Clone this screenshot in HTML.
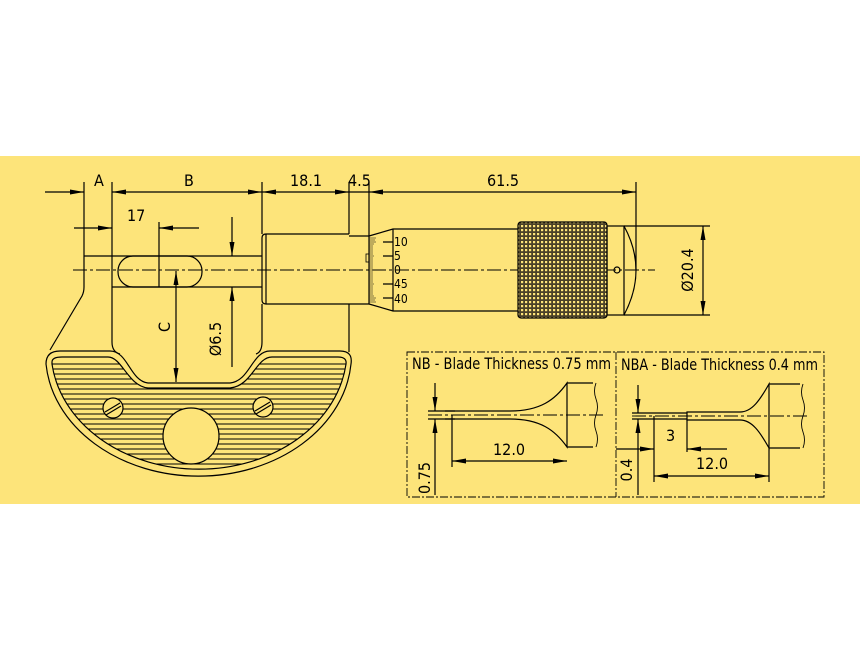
<!DOCTYPE html>
<html><head><meta charset="utf-8"><style>
html,body{margin:0;padding:0;background:#fff;width:860px;height:654px;overflow:hidden}
svg{display:block}
text{font-family:"DejaVu Sans Condensed","Liberation Sans Narrow","Liberation Sans",sans-serif;fill:#000}
</style></head><body>
<svg width="860" height="654" viewBox="0 0 860 654" xmlns="http://www.w3.org/2000/svg">
<defs>
<marker id="ae" markerWidth="14" markerHeight="6" refX="14" refY="3" orient="auto" markerUnits="userSpaceOnUse"><path d="M0,0.5 L14,3 L0,5.5z" fill="#000"/></marker>
<marker id="as" markerWidth="14" markerHeight="6" refX="0" refY="3" orient="auto" markerUnits="userSpaceOnUse"><path d="M14,0.5 L0,3 L14,5.5z" fill="#000"/></marker>
<clipPath id="gc"><path d="M52,362 Q52,357 62,357 L108,357 C122,357 128,386 148,388 L230,388 C252,386 256,357 272,357 L338,357 Q347,357 346,364 A148,119 0 0 1 52,364 Z"/></clipPath>
<pattern id="knurl" width="4" height="4" patternUnits="userSpaceOnUse"><rect width="4" height="4" fill="#4a4128"/><rect x="1" y="1" width="2.2" height="2.2" fill="#fde47a"/></pattern>
</defs>
<rect x="0" y="156" width="860" height="348" fill="#fde47a"/>
<g stroke="#000" stroke-width="1.2" fill="none">
<line x1="45" y1="192" x2="84" y2="192" marker-end="url(#ae)"/>
<line x1="112" y1="192" x2="262" y2="192" marker-start="url(#as)" marker-end="url(#ae)"/>
<line x1="262" y1="192" x2="349" y2="192" marker-start="url(#as)" marker-end="url(#ae)"/>
<line x1="349" y1="192" x2="369" y2="192"/>
<line x1="369" y1="192" x2="636" y2="192" marker-start="url(#as)" marker-end="url(#ae)"/>
<line x1="84" y1="182" x2="84" y2="256"/>
<line x1="112" y1="182" x2="112" y2="287"/>
<line x1="262" y1="182" x2="262" y2="234"/>
<line x1="349" y1="182" x2="349" y2="234"/>
<line x1="369" y1="182" x2="369" y2="236"/>
<line x1="636" y1="182" x2="636" y2="270"/>
<line x1="74" y1="228" x2="112" y2="228" marker-end="url(#ae)"/>
<line x1="159" y1="228" x2="199" y2="228" marker-start="url(#as)"/>
<line x1="159" y1="222" x2="159" y2="287"/>
<line x1="84" y1="256" x2="262" y2="256"/>
<line x1="112" y1="287" x2="262" y2="287"/>
<rect x="118" y="256" width="84" height="31" rx="15"/>
<line x1="73" y1="270" x2="655" y2="270" stroke-width="0.9" stroke-dasharray="14,3,3,3"/>
<line x1="232" y1="217" x2="232" y2="256" marker-end="url(#ae)"/>
<line x1="232" y1="367" x2="232" y2="287" marker-end="url(#ae)"/>
<line x1="176" y1="271" x2="176" y2="382" marker-start="url(#as)" marker-end="url(#ae)"/>
<path d="M349,234 L266,234 Q262,234 262,238 L262,300 Q262,304 266,304 L349,304"/>
<line x1="266" y1="234" x2="266" y2="304"/>
<line x1="349" y1="236" x2="369" y2="236"/>
<line x1="349" y1="304" x2="369" y2="304"/>
<path d="M369,236 L393,229 L518,229 M369,304 L393,311 L518,311 M393,229 L393,311"/>
<line x1="369" y1="236" x2="369" y2="304"/>
<path d="M393,242 h-10 M393,256 h-10 M393,284 h-10 M393,298 h-10"/>
<path d="M369,238h7M369,240h6M369,242h7M369,244h5M369,246h4M369,248h4M369,250h4M369,252h4M369,254h4M369,256h5M369,258h4M369,260h4M369,262h4M369,264h4M369,266h4M369,268h4M369,270h5M369,272h4M369,274h4M369,276h4M369,278h4M369,280h4M369,282h4M369,284h5M369,286h4M369,288h4M369,290h4M369,292h4M369,294h4M369,296h5M369,298h7M369,300h6M369,302h7" stroke-width="0.6"/>
<rect x="366" y="254" width="3" height="8" stroke-width="0.8"/>
<rect x="518" y="222" width="89" height="96" rx="3" fill="url(#knurl)"/>
<rect x="607" y="226" width="17" height="89"/>
<path d="M624,226 Q648,270 624,315"/>
<circle cx="617" cy="270" r="3"/>
<line x1="624" y1="226" x2="710" y2="226"/>
<line x1="624" y1="315" x2="710" y2="315"/>
<line x1="703" y1="226" x2="703" y2="315" marker-start="url(#as)" marker-end="url(#ae)"/>
<path d="M84,256 L84,287 Q84,292 82,296 L50,350"/>
<path d="M112,287 L112,342 Q112,352 120,354"/>
<path d="M262,304 L262,342 Q262,352 256,354"/>
<path d="M349,304 L349,352"/>
<path d="M46,364 Q46,351 60,351 L110,351 C128,351 130,381 148,383 L230,383 C250,381 252,351 270,351 L340,351 Q353,351 351,364 A153,122 0 0 1 46,364 Z"/>
<path d="M52,362 Q52,357 62,357 L108,357 C122,357 128,386 148,388 L230,388 C252,386 256,357 272,357 L338,357 Q347,357 346,364 A148,119 0 0 1 52,364 Z"/>
<g clip-path="url(#gc)" stroke-width="1">
<path d="M40,364H360M40,369H360M40,374H360M40,379H360M40,384H360M40,389H360M40,394H360M40,399H360M40,404H360M40,409H360M40,414H360M40,419H360M40,424H360M40,429H360M40,434H360M40,439H360M40,444H360M40,449H360M40,454H360M40,459H360M40,464H360M40,469H360M40,474H360M40,479H360"/>
</g>
<circle cx="191" cy="436" r="28" fill="#fde47a"/>
<circle cx="113" cy="408" r="10" fill="#fde47a"/>
<circle cx="263" cy="407" r="10" fill="#fde47a"/>
<path d="M105,412 L120,403 M106,415 L121,406 M255,411 L270,402 M256,414 L271,405"/>
<rect x="407" y="352" width="417" height="145" stroke-width="0.9" stroke-dasharray="8,2,2,2"/>
<line x1="616" y1="352" x2="616" y2="497" stroke-width="0.9" stroke-dasharray="8,2,2,2"/>
<line x1="428" y1="415" x2="605" y2="415" stroke-width="0.9" stroke-dasharray="14,3,3,3"/>
<path d="M445,411 L510,411 C540,411 555,400 567,383 L567,447 C555,430 540,419 510,419 L445,419"/>
<path d="M567,383 H593 M567,447 H593"/>
<path d="M596,383 q-3,8 0,16 q3,8 0,16 q-3,8 0,16 q3,8 0,16" stroke-width="0.9"/>
<line x1="428" y1="411" x2="455" y2="411"/><line x1="428" y1="419" x2="455" y2="419"/>
<line x1="435" y1="383" x2="435" y2="411" marker-end="url(#ae)"/>
<line x1="435" y1="495" x2="435" y2="419" marker-end="url(#ae)"/>
<line x1="452" y1="415" x2="452" y2="467"/>
<line x1="452" y1="461" x2="567" y2="461" marker-start="url(#as)" marker-end="url(#ae)"/>
<line x1="632" y1="416" x2="808" y2="416" stroke-width="0.9" stroke-dasharray="14,3,3,3"/>
<path d="M632,413 L687,413 M632,419 L687,419"/>
<path d="M687,412 L740,412 C752,412 760,400 769,384 L769,448 C760,432 752,420 740,420 L687,420 Z"/>
<path d="M769,384 H800 M769,448 H800"/>
<path d="M803,384 q-3,8 0,16 q3,8 0,16 q-3,8 0,16 q3,8 0,16" stroke-width="0.9"/>
<line x1="638" y1="385" x2="638" y2="413" marker-end="url(#ae)"/>
<line x1="638" y1="495" x2="638" y2="419" marker-end="url(#ae)"/>
<line x1="654" y1="416" x2="654" y2="482"/>
<line x1="687" y1="420" x2="687" y2="452"/>
<line x1="616" y1="449" x2="654" y2="449" marker-end="url(#ae)"/>
<line x1="687" y1="449" x2="727" y2="449" marker-start="url(#as)"/>
<line x1="769" y1="448" x2="769" y2="482"/>
<line x1="654" y1="476" x2="769" y2="476" marker-start="url(#as)" marker-end="url(#ae)"/>
</g>
<g font-size="16">
<text x="94" y="186">A</text>
<text x="184" y="186">B</text>
<text x="290" y="186">18.1</text>
<text x="348" y="186">4.5</text>
<text x="487" y="186">61.5</text>
<text x="127" y="221">17</text>
<text transform="translate(170,327) rotate(-90)" text-anchor="middle">C</text>
<text transform="translate(221,339) rotate(-90)" text-anchor="middle">Ø6.5</text>
<text transform="translate(693,270) rotate(-90)" text-anchor="middle">Ø20.4</text>
<text x="412" y="369" textLength="199" lengthAdjust="spacingAndGlyphs">NB - Blade Thickness 0.75 mm</text>
<text x="621" y="370" textLength="197" lengthAdjust="spacingAndGlyphs">NBA - Blade Thickness 0.4 mm</text>
<text x="493" y="455">12.0</text>
<text x="696" y="469">12.0</text>
<text x="666" y="441">3</text>
<text transform="translate(430,478) rotate(-90)" text-anchor="middle">0.75</text>
<text transform="translate(632,470) rotate(-90)" text-anchor="middle">0.4</text>
</g>
<g font-size="12" font-family="Liberation Sans, sans-serif">
<text x="394" y="246">10</text>
<text x="394" y="260">5</text>
<text x="394" y="274">0</text>
<text x="394" y="288">45</text>
<text x="394" y="303">40</text>
</g>
</svg>
</body></html>
